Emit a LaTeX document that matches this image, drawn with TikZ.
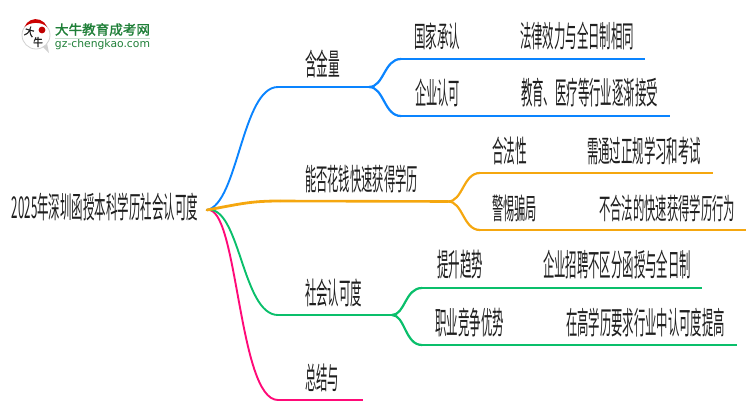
\documentclass[tikz,border=0pt]{standalone}
\usepackage{graphicx}
\usepackage{fontspec}
\newfontfamily\cjk{Noto Sans CJK SC}
\newfontfamily\cjkb{Noto Sans CJK SC}[FakeBold=1.5]
\definecolor{cblue}{HTML}{0A84FF}
\definecolor{corange}{HTML}{F5A70F}
\definecolor{cgreen}{HTML}{0ABF6B}
\definecolor{cpink}{HTML}{FF0A78}
\definecolor{lgreen}{HTML}{1F7F38}
\newcommand\ftxt[3]{\resizebox*{#1pt}{#2pt}{\cjk #3}}
\tikzset{
  lbl/.style={inner sep=0pt,outer sep=0pt,text=black!88},
  curve/.style={line width=1.9pt,line cap=round},
  bar/.style={line width=2.6pt,line cap=butt,line join=round},
  fork/.style={line width=2.2pt,line cap=round}
}
\begin{document}
\begin{tikzpicture}[x=1pt,y=-1pt]
\useasboundingbox (0,0) rectangle (750,410);
% logo
\fill[black!18] (42,46) -- (49,53) -- (47,43) -- cycle;
\fill[white,draw=black!18,line width=.8pt] (36,35) circle (14);
\fill[red!80!black] (24.5,27) arc (200:340:12) .. controls (42,21.5) and (30,21.5) .. cycle;
\fill[red!75!black] (42,30) circle (3.4);
\node[lbl] (logoa) at (29.5,31.5) {\rotatebox{-15}{\resizebox*{9.5pt}{10pt}{\cjkb 大}}};
\node[lbl] (logob) at (38,42) {\resizebox*{9.5pt}{10pt}{\cjkb 牛}};
\node[inner sep=0pt,text=lgreen] (logot) at (102.5,29.5) {\resizebox*{95pt}{12.5pt}{\cjkb 大牛教育成考网}};
\node[inner sep=0pt,text=lgreen] (logou) at (102.5,45) {\resizebox{95pt}{!}{\fontspec{DejaVu Sans} gz-chengkao.com}};
\draw[lgreen!25,line width=.8pt] (logot.south west)++(0,2.5) -- ++(95,0);
% texts
\node[lbl] (root) at (105,207) {\ftxt{186}{28}{2025年深圳函授本科学历社会认可度}};
\node[lbl] (a) at (322.5,64) {\ftxt{35}{28}{含金量}};
\node[lbl] (b) at (361.5,179) {\ftxt{113}{28}{能否花钱快速获得学历}};
\node[lbl] (c) at (333.5,293) {\ftxt{57}{28}{社会认可度}};
\node[lbl] (d) at (322,378) {\ftxt{34}{28}{总结与}};
\node[lbl] (a1) at (437,36.5) {\ftxt{46}{27}{国家承认}};
\node[lbl] (a1t) at (577,36) {\ftxt{114}{28}{法律效力与全日制相同}};
\node[lbl] (a2) at (437.5,92.5) {\ftxt{45}{28}{企业认可}};
\node[lbl] (a2t) at (589.5,93) {\ftxt{137}{29}{教育、医疗等行业逐渐接受}};
\node[lbl] (b1) at (509.5,151) {\ftxt{35}{28}{合法性}};
\node[lbl] (b1t) at (644,151) {\ftxt{114}{28}{需通过正规学习和考试}};
\node[lbl] (b2) at (514.5,208.5) {\ftxt{45}{27}{警惕骗局}};
\node[lbl] (b2t) at (667,208.5) {\ftxt{136}{27}{不合法的快速获得学历行为}};
\node[lbl] (c1) at (460,264.5) {\ftxt{46}{29}{提升趋势}};
\node[lbl] (c1t) at (617,264.5) {\ftxt{148}{29}{企业招聘不区分函授与全日制}};
\node[lbl] (c2) at (469.5,322.5) {\ftxt{69}{29}{职业竞争优势}};
\node[lbl] (c2t) at (645.5,322.5) {\ftxt{159}{29}{在高学历要求行业中认可度提高}};
% connector anchors
\coordinate (hub) at ([xshift=9pt,yshift=-3pt]root.east);
\coordinate (aS) at (278,87);  \coordinate (aF) at (369,87);
\coordinate (bS) at (280,201); \coordinate (bF) at (448,201.5);
\coordinate (cS) at (278,315); \coordinate (cF) at (392,315);
\coordinate (dS) at (278,400); \coordinate (dE) at (363,400);
\coordinate (a1S) at (401,59);  \coordinate (a1E) at (645,59);
\coordinate (a2S) at (401,116); \coordinate (a2E) at (670,116);
\coordinate (b1S) at (480,173); \coordinate (b1E) at (713,173);
\coordinate (b2S) at (480,230); \coordinate (b2E) at (746,230);
\coordinate (c1S) at (422,288); \coordinate (c1E) at (702,288);
\coordinate (c2S) at (422,345); \coordinate (c2E) at (737,345);
% pink
\draw[cpink,curve] (hub) .. controls (238,204) and (238,400) .. (dS);
\draw[cpink,bar] (dS) -- (dE);
% green
\draw[cgreen,curve] (hub) .. controls (240,204) and (242,315) .. (cS);
\draw[cgreen,bar] (cS) -- (cF);
\draw[cgreen,fork] (cF) .. controls (405,315) and (405,288) .. (c1S);
\draw[cgreen,fork] (cF) .. controls (405,315) and (405,345) .. (c2S);
\draw[cgreen,bar] (c1S) -- (c1E);
\draw[cgreen,bar] (c2S) -- (c2E);
% blue
\draw[cblue,curve] (hub) .. controls (238,204) and (242,87) .. (aS);
\draw[cblue,bar] (aS) -- (aF);
\draw[cblue,fork] (aF) .. controls (384,87) and (384,59) .. (a1S);
\draw[cblue,fork] (aF) .. controls (384,87) and (384,116) .. (a2S);
\draw[cblue,bar] (a1S) -- (a1E);
\draw[cblue,bar] (a2S) -- (a2E);
% orange
\draw[corange,line width=2.8pt,line cap=round] (hub) .. controls (240,204) and (250,201) .. (bS);
\draw[corange,bar] (bS) -- (bF);
\draw[corange,fork] (bF) .. controls (463,201.5) and (463,173) .. (b1S);
\draw[corange,fork] (bF) .. controls (463,201.5) and (463,230) .. (b2S);
\draw[corange,bar] (b1S) -- (b1E);
\draw[corange,bar] (b2S) -- (b2E);
\end{tikzpicture}
\end{document}
